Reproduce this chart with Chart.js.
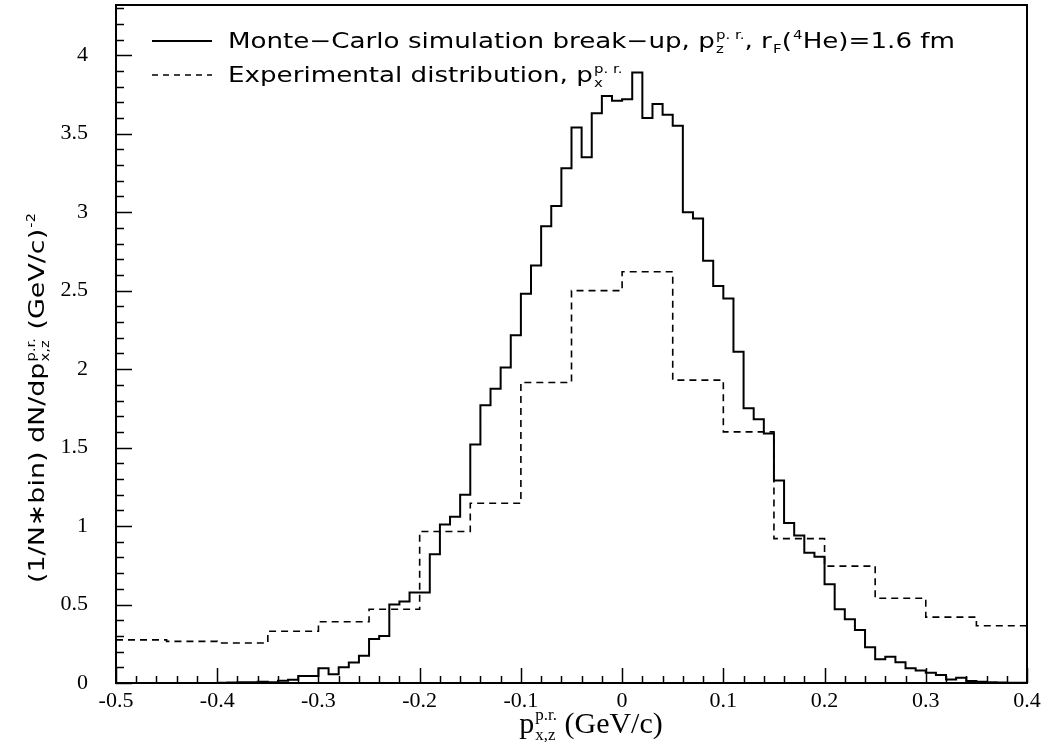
<!DOCTYPE html>
<html>
<head>
<meta charset="utf-8">
<script src="https://cdn.jsdelivr.net/npm/chart.js@4.4.0/dist/chart.umd.min.js"></script>
<style>
  html, body { margin: 0; padding: 0; background: #fff; }
  #wrap { width: 1045px; height: 742px; }
</style>
</head>
<body>
<div id="wrap"><canvas id="myChart" width="1045" height="742"></canvas></div>
<script>
'use strict'

// DATA
// Monte-Carlo histogram, 0.01 GeV/c bins starting at -0.40
const mcStart = -0.40;
const mcWidth = 0.01;
const mcValues = [
  0.002, 0.003, 0.004, 0.004, 0.008, 0.005, 0.015, 0.02, 0.045, 0.045,
  0.094, 0.055, 0.10, 0.13, 0.174, 0.28, 0.30, 0.50, 0.52, 0.576,
  0.576, 0.82, 1.01, 1.06, 1.20, 1.52, 1.77, 1.875, 2.01, 2.215,
  2.48, 2.66, 2.91, 3.04, 3.28, 3.54, 3.35, 3.63, 3.74, 3.71,
  3.72, 3.89, 3.60, 3.69, 3.62, 3.55, 3.00, 2.96, 2.69, 2.53,
  2.45, 2.11, 1.75, 1.68, 1.59, 1.29, 1.02, 0.94, 0.83, 0.805,
  0.63, 0.47, 0.406, 0.338, 0.228, 0.151, 0.168, 0.132, 0.094, 0.079,
  0.066, 0.051, 0.023, 0.033, 0.013, 0.008, 0.005, 0.003, 0.002, 0.002
];

// experimental histogram, 0.05 GeV/c bins
const expEdges = [-0.5, -0.45, -0.4, -0.35, -0.3, -0.25, -0.2, -0.15, -0.1, -0.05,
  0, 0.05, 0.1, 0.15, 0.2, 0.25, 0.3, 0.35, 0.4];
const expValues = [0.275, 0.265, 0.255, 0.33, 0.39, 0.47, 0.965, 1.145, 1.915, 2.5,
  2.62, 1.93, 1.6, 0.92, 0.745, 0.54, 0.42, 0.365];

const xTicks = [-0.5, -0.4, -0.3, -0.2, -0.1, 0, 0.1, 0.2, 0.3, 0.4];
const xTickLabels = ['-0.5', '-0.4', '-0.3', '-0.2', '-0.1', '0', '0.1', '0.2', '0.3', '0.4'];
const yTicks = [0, 0.5, 1, 1.5, 2, 2.5, 3, 3.5, 4];
const yTickLabels = ['0', '0.5', '1', '1.5', '2', '2.5', '3', '3.5', '4'];

// build step points (left edges + closing right edge)
function mcPoints() {
  let pts = [];
  for (let i = 0; i < mcValues.length; i++) {
    pts.push({ x: +(mcStart + i * mcWidth).toFixed(3), y: mcValues[i] });
  }
  pts.push({ x: +(mcStart + mcValues.length * mcWidth).toFixed(3), y: mcValues[mcValues.length - 1] });
  return pts;
}

function expPoints() {
  let pts = [];
  for (let i = 0; i < expValues.length; i++) {
    pts.push({ x: expEdges[i], y: expValues[i] });
  }
  pts.push({ x: expEdges[expEdges.length - 1], y: expValues[expValues.length - 1] });
  return pts;
}

const SANS = '"DejaVu Sans", sans-serif';
const SERIF = '"Liberation Serif", "DejaVu Serif", serif';

// a run is {t} or {sub, sup}
function runsWidth(ctx, runs, size, family) {
  let w = 0;
  for (const r of runs) {
    if (r.t !== undefined) {
      ctx.font = `${size}px ${family}`;
      w += ctx.measureText(r.t).width;
    } else {
      ctx.font = `${Math.round(size * 0.55)}px ${family}`;
      let a = r.sub ? ctx.measureText(r.sub).width : 0;
      let b = r.sup ? ctx.measureText(r.sup).width : 0;
      w += Math.max(a, b) + 1;
    }
  }
  return w;
}

function drawRuns(ctx, x, y, runs, size, family, sx) {
  ctx.save();
  ctx.translate(x, y);
  ctx.scale(sx || 1, 1);
  ctx.textBaseline = 'alphabetic';
  ctx.textAlign = 'left';
  let cx = 0;
  for (const r of runs) {
    if (r.t !== undefined) {
      ctx.font = `${size}px ${family}`;
      ctx.fillText(r.t, cx, 0);
      cx += ctx.measureText(r.t).width;
    } else {
      let small = Math.round(size * 0.55);
      ctx.font = `${small}px ${family}`;
      let a = 0, b = 0;
      if (r.sub) { ctx.fillText(r.sub, cx + 1, size * 0.22); a = ctx.measureText(r.sub).width; }
      if (r.sup) { ctx.fillText(r.sup, cx + 1, -size * 0.42); b = ctx.measureText(r.sup).width; }
      cx += Math.max(a, b) + 1;
    }
  }
  ctx.restore();
}

const legendRow1 = [
  { t: 'Monte\u2212Carlo simulation break\u2212up, p' },
  { sub: 'z', sup: 'p. r.' },
  { t: ', r' },
  { sub: 'F' },
  { t: '(' },
  { sup: '4' },
  { t: 'He)=1.6 fm' }
];
const legendRow2 = [
  { t: 'Experimental distribution, p' },
  { sub: 'x', sup: 'p. r.' }
];
const yTitle = [
  { t: '(1/N\u2217bin) dN/dp' },
  { sub: 'x,z', sup: 'p.r.' },
  { t: ' (GeV/c)' },
  { sup: '-2' }
];
const xTitle = [
  { t: 'p' },
  { sub: 'x,z', sup: 'p.r.' },
  { t: ' (GeV/c)' }
];

const framePlugin = {
  id: 'frame',
  afterDraw(chart) {
    const ctx = chart.ctx;
    const a = chart.chartArea;
    const xs = chart.scales.x;
    const ys = chart.scales.y;
    ctx.save();
    ctx.strokeStyle = '#000';
    ctx.fillStyle = '#000';

    // frame
    ctx.lineWidth = 2;
    ctx.strokeRect(a.left, a.top, a.right - a.left, a.bottom - a.top);

    // inward ticks, y: minor 0.1, major 0.5
    ctx.lineWidth = 1.5;
    for (let k = 0; k <= 43; k++) {
      let py = Math.round(ys.getPixelForValue(k / 10)) + 0.5;
      let len = (k % 5 === 0) ? 16 : 8;
      ctx.beginPath();
      ctx.moveTo(a.left, py);
      ctx.lineTo(a.left + len, py);
      ctx.stroke();
    }
    // inward ticks, x: minor 0.02, major 0.1
    for (let k = -25; k <= 20; k++) {
      let px = Math.round(xs.getPixelForValue(k / 50)) + 0.5;
      let len = (k % 5 === 0) ? 15 : 7;
      ctx.beginPath();
      ctx.moveTo(px, a.bottom);
      ctx.lineTo(px, a.bottom - len);
      ctx.stroke();
    }

    // legend
    ctx.lineWidth = 2;
    ctx.setLineDash([]);
    ctx.beginPath();
    ctx.moveTo(152, 41); ctx.lineTo(212, 41);
    ctx.stroke();
    ctx.lineWidth = 1.5;
    ctx.setLineDash([6, 5]);
    ctx.beginPath();
    ctx.moveTo(152, 75); ctx.lineTo(212, 75);
    ctx.stroke();
    ctx.setLineDash([]);

    let lw = runsWidth(ctx, legendRow1, 21, SANS);
    let lsx = 727 / lw;
    drawRuns(ctx, 228, 48, legendRow1, 21, SANS, lsx);
    drawRuns(ctx, 228, 82, legendRow2, 21, SANS, lsx);

    // y title
    ctx.save();
    ctx.translate(44, 398);
    ctx.rotate(-Math.PI / 2);
    let w = runsWidth(ctx, yTitle, 22, SANS);
    let ysx = 370 / w;
    drawRuns(ctx, -185, 0, yTitle, 22, SANS, ysx);
    ctx.restore();

    // x title
    let wx = runsWidth(ctx, xTitle, 30, SERIF);
    drawRuns(ctx, 591 - wx / 2, 733, xTitle, 30, SERIF);
    ctx.restore();
  }
};

let canvasChart = document.getElementById('myChart');

const data = {
  datasets: [{
    label: 'Monte-Carlo simulation break-up',
    data: mcPoints(),
    stepped: 'before',
    borderColor: '#000',
    borderWidth: 2,
    pointRadius: 0,
    fill: false
  },
  {
    label: 'Experimental distribution',
    data: expPoints(),
    stepped: 'before',
    borderColor: '#000',
    borderWidth: 1.6,
    borderDash: [7, 5],
    pointRadius: 0,
    fill: false
  }]
};

const config = {
  type: 'line',
  data: data,
  options: {
    responsive: false,
    animation: false,
    layout: { padding: { top: 5, right: 18, left: 0, bottom: 0 } },
    plugins: {
      legend: { display: false },
      tooltip: { enabled: false }
    },
    scales: {
      x: {
        type: 'linear',
        min: -0.5,
        max: 0.4,
        grid: { display: false, drawTicks: false },
        border: { display: false },
        afterBuildTicks: (s) => { s.ticks = xTicks.map((v) => ({ value: v })); },
        afterFit: (s) => { s.height = 59; s.paddingLeft = 0; s.paddingRight = 0; },
        ticks: {
          callback: (v, i) => xTickLabels[i],
          color: '#000',
          font: { family: SERIF, size: 22 },
          padding: 5,
          maxRotation: 0,
          autoSkip: false
        }
      },
      y: {
        min: 0,
        max: 4.32,
        grid: { display: false, drawTicks: false },
        border: { display: false },
        afterBuildTicks: (s) => { s.ticks = yTicks.map((v) => ({ value: v })); },
        afterFit: (s) => { s.width = 116; s.paddingTop = 0; s.paddingBottom = 0; },
        ticks: {
          callback: (v, i) => yTickLabels[i],
          color: '#000',
          font: { family: SERIF, size: 22 },
          padding: 28,
          autoSkip: false
        }
      }
    }
  },
  plugins: [framePlugin]
};

const myChart = new Chart(canvasChart, config);
</script>
</body>
</html>
